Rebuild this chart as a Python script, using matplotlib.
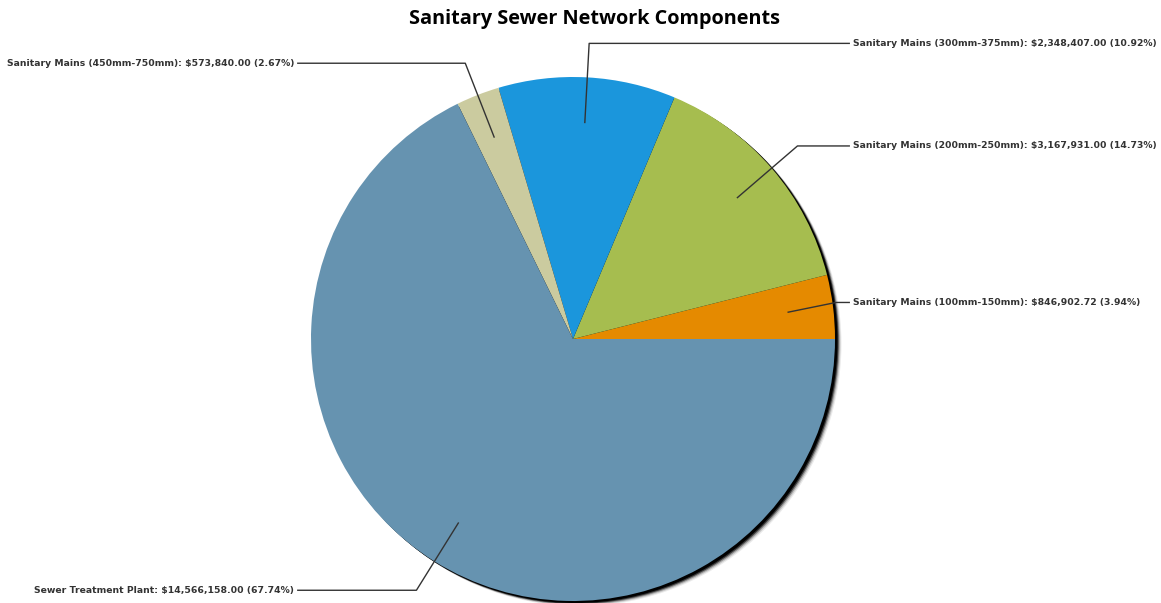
import numpy as np
import matplotlib
matplotlib.use("Agg")
import matplotlib.pyplot as plt
from matplotlib.patches import Circle

# Sanitary sewer network component costs
components = [
    "Sanitary Mains (100mm-150mm)",
    "Sanitary Mains (200mm-250mm)",
    "Sanitary Mains (300mm-375mm)",
    "Sanitary Mains (450mm-750mm)",
    "Sewer Treatment Plant",
]
costs = [846902.72, 3167931.00, 2348407.00, 573840.00, 14566158.00]
percents = [3.94, 14.73, 10.92, 2.67, 67.74]
colors = ["#E58A00", "#A6BD4F", "#1B96DC", "#CBCB9F", "#6693B0"]

W, H = 1161, 603
fig = plt.figure(figsize=(W / 100, H / 100), dpi=100)
ax = fig.add_axes([0, 0, 1, 1])

cx, cy, R = 573, 264, 262

# soft drop shadow towards the lower right
for off, a in [(6.5, 0.08), (5.5, 0.15), (4.5, 0.3), (3.5, 0.6), (2.5, 1.0)]:
    ax.add_patch(Circle((cx + off, cy - off * 0.8), R, color="black", alpha=a,
                        lw=0, zorder=1))

wedges, _ = ax.pie(costs, colors=colors, startangle=0, counterclock=True,
                   center=(cx, cy), radius=R, frame=True,
                   wedgeprops=dict(linewidth=0, zorder=2))
ax.set_xlim(0, W)
ax.set_ylim(0, H)
ax.set_aspect("equal")
ax.axis("off")

right_end = cx + 1.057 * R
left_end = cx - 1.053 * R
label_font = dict(fontsize=6.65, fontweight="bold", color="#333333",
                  family="DejaVu Sans")

for w, name, val, pct in zip(wedges, components, costs, percents):
    ang = np.deg2rad((w.theta1 + w.theta2) / 2)
    x0, y0 = cx + 0.825 * R * np.cos(ang), cy + 0.825 * R * np.sin(ang)
    x1, y1 = cx + 1.13 * R * np.cos(ang), cy + 1.13 * R * np.sin(ang)
    text = f"{name}: ${val:,.2f} ({pct:.2f}%)"
    if np.cos(ang) >= 0:
        x1 = min(x1, right_end - 14)
        xs = [x0, x1, right_end]
        ax.text(right_end + 3, y1, text, ha="left", va="center", **label_font)
    else:
        x1 = max(x1, left_end + 14)
        xs = [x0, x1, left_end]
        ax.text(left_end - 3, y1, text, ha="right", va="center", **label_font)
    ax.plot(xs, [y0, y1, y1], color="#333333", lw=1.0, zorder=5,
            solid_capstyle="butt")

fig.text(0.512, 1 - 19 / H, "Sanitary Sewer Network Components", ha="center",
         va="center", fontsize=14.3, fontweight="bold", family="Open Sans",
         color="black")

fig.savefig("out.png", dpi=100, facecolor="white")
